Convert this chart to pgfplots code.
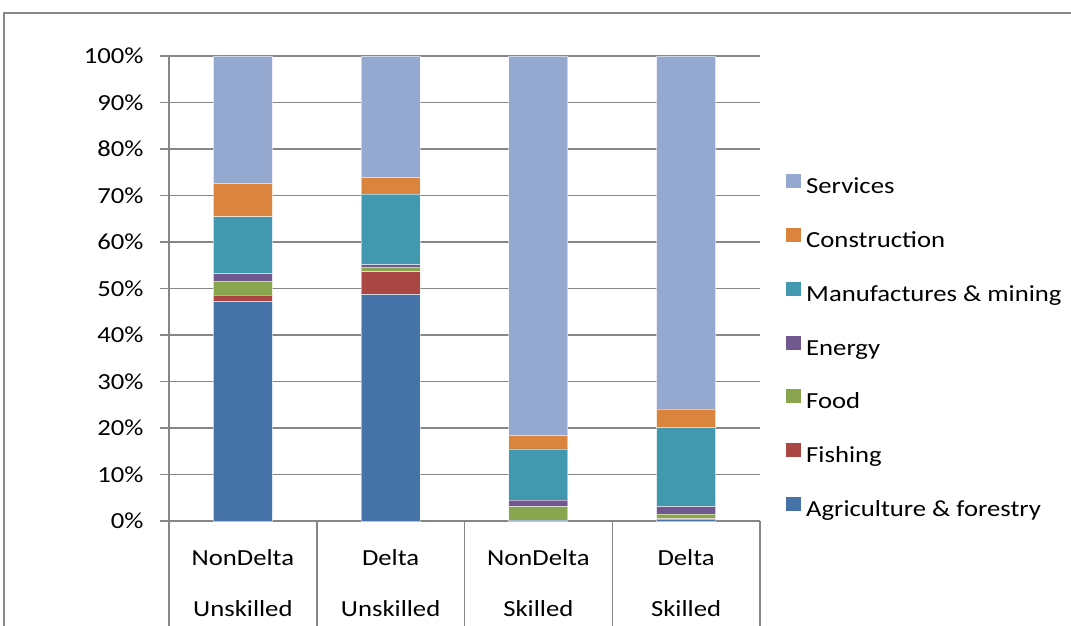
\documentclass[border=0pt]{standalone}
\usepackage{pgfplots}
\pgfplotsset{compat=1.18}
\usepackage{fontspec}
\setmainfont{Carlito}[FakeStretch=1.16]
\definecolor{cServ}{RGB}{149,169,208}
\definecolor{cCons}{RGB}{219,132,61}
\definecolor{cManu}{RGB}{66,152,175}
\definecolor{cEner}{RGB}{113,88,143}
\definecolor{cFood}{RGB}{137,165,78}
\definecolor{cFish}{RGB}{170,70,67}
\definecolor{cAgri}{RGB}{69,114,167}
\definecolor{gridc}{RGB}{134,134,134}
\definecolor{framec}{RGB}{136,136,136}
\begin{document}
\begin{tikzpicture}[x=1pt,y=1pt]
\useasboundingbox (0,0) rectangle (1071,626);
\draw[framec, line width=1.5pt] (4,0) -- (4,613) -- (1071,613);
\begin{axis}[
  at={(169pt,105pt)}, anchor=south west,
  width=591pt, height=465pt, scale only axis,
  ybar stacked, bar width=59pt,
  xmin=-0.5, xmax=3.5, ymin=0, ymax=100,
  xtick={0,1,2,3},
  xticklabels={{NonDelta\\Unskilled},{Delta\\Unskilled},{NonDelta\\Skilled},{Delta\\Skilled}},
  x tick label style={align=center, font=\fontsize{23}{51}\selectfont, yshift=-16pt},
  major x tick style={draw=none},
  ytick={0,10,20,30,40,50,60,70,80,90,100},
  yticklabels={0\%,10\%,20\%,30\%,40\%,50\%,60\%,70\%,80\%,90\%,100\%},
  y tick label style={font=\fontsize{23}{28}\selectfont, xshift=-13pt},
  ymajorgrids, grid style={gridc, line width=1.5pt},
  axis x line*=bottom, axis y line*=left,
  axis line style={gridc, line width=1.5pt, -},
  tick align=outside, major tick length=9pt,
  major y tick style={gridc, line width=1.5pt},
  every axis plot/.append style={draw=white, draw opacity=0.5, line width=0.8pt},
  legend style={draw=none, fill=none, at={(1.0440,0.7469)}, anchor=north west,
    font=\fontsize{23}{28}\selectfont, inner sep=0pt,
    nodes={text height=17pt, text depth=6pt, inner sep=2pt},
    row sep=26.4pt, column sep=3pt},
  legend cell align=left,
  reverse legend,
  legend image code/.code={\path[#1, draw=none] (0pt,0pt) rectangle (15pt,14pt);},
  clip=false,
]
\addplot[fill=cAgri] coordinates {(0,47.2) (1,48.7) (2,0.2) (3,0.4)};
\addplot[fill=cFish] coordinates {(0,1.4) (1,4.9) (2,0.0) (3,0.1)};
\addplot[fill=cFood] coordinates {(0,3.0) (1,1.0) (2,2.9) (3,1.0)};
\addplot[fill=cEner] coordinates {(0,1.6) (1,0.5) (2,1.4) (3,1.6)};
\addplot[fill=cManu] coordinates {(0,12.2) (1,15.2) (2,11.0) (3,17.0)};
\addplot[fill=cCons] coordinates {(0,7.2) (1,3.6) (2,2.9) (3,4.0)};
\addplot[fill=cServ] coordinates {(0,27.4) (1,26.1) (2,81.6) (3,75.9)};
\legend{Agriculture \& forestry, Fishing, Food, Energy, Manufactures \& mining, Construction, Services}
\draw[gridc, line width=1.5pt] (axis cs:-0.5,0) -- ([yshift=-110pt]axis cs:-0.5,0);
\draw[gridc, line width=1.5pt] (axis cs:0.5,0) -- ([yshift=-110pt]axis cs:0.5,0);
\draw[gridc, line width=1.5pt] (axis cs:1.5,0) -- ([yshift=-110pt]axis cs:1.5,0);
\draw[gridc, line width=1.5pt] (axis cs:2.5,0) -- ([yshift=-110pt]axis cs:2.5,0);
\draw[gridc, line width=1.5pt] (axis cs:3.5,0) -- ([yshift=-110pt]axis cs:3.5,0);
\end{axis}
\end{tikzpicture}
\end{document}
